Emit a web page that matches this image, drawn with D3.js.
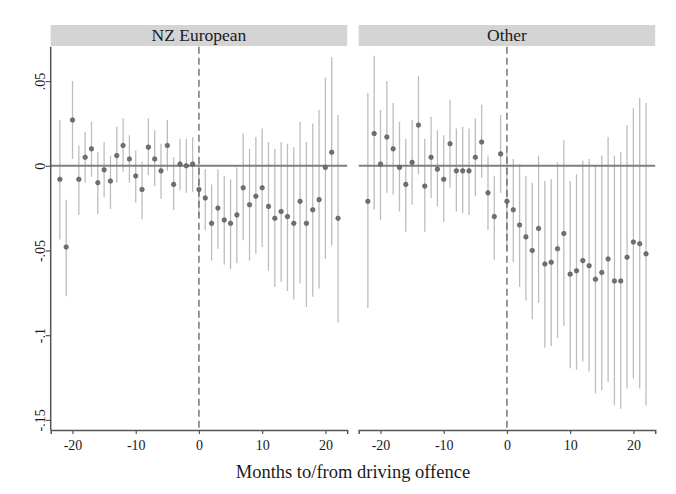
<!DOCTYPE html>
<html>
<head>
<meta charset="utf-8">
<script src="https://cdn.jsdelivr.net/npm/d3@7"></script>
<style>
  body { margin: 0; background: #fff; }
  svg text { font-family: 'Liberation Serif', 'DejaVu Serif', serif; fill: #1a1a1a; }
</style>
</head>
<body>
<script>
// months relative to the offence
const months = [-22, -21, -20, -19, -18, -17, -16, -15, -14, -13, -12, -11, -10, -9, -8, -7, -6, -5, -4, -3, -2, -1,
  0, 1, 2, 3, 4, 5, 6, 7, 8, 9, 10, 11, 12, 13, 14, 15, 16, 17, 18, 19, 20, 21, 22]

const panels = ['NZ European', 'Other']

// NZ European estimates and 95% CI
const nzEst = [-0.008, -0.048, 0.027, -0.008, 0.005, 0.010, -0.010, -0.0024, -0.009, 0.006, 0.012, 0.004, -0.006, -0.014, 0.011, 0.004, -0.003, 0.012, -0.011, 0.001, 0.000, 0.001,
  -0.014, -0.019, -0.034, -0.025, -0.032, -0.034, -0.029, -0.013, -0.023, -0.018, -0.013, -0.024, -0.031, -0.027, -0.030, -0.034, -0.021, -0.034, -0.026, -0.020, -0.001, 0.008, -0.031]
const nzLo = [-0.0435, -0.077, 0.004, -0.029, -0.010, -0.0065, -0.0285, -0.0185, -0.0256, -0.010, -0.0035, -0.010, -0.0217, -0.0315, -0.0055, -0.012, -0.0195, -0.003, -0.026, -0.0144, -0.016, -0.0154,
  -0.030, -0.038, -0.056, -0.049, -0.0585, -0.061, -0.0575, -0.044, -0.056, -0.052, -0.048, -0.062, -0.0715, -0.0685, -0.074, -0.079, -0.0695, -0.0835, -0.0774, -0.0724, -0.055, -0.047, -0.0925]
const nzHi = [0.027, -0.020, 0.050, 0.012, 0.020, 0.026, 0.008, 0.014, 0.006, 0.023, 0.028, 0.018, 0.009, 0.0024, 0.028, 0.021, 0.013, 0.027, 0.005, 0.016, 0.016, 0.017,
  0.002, -0.002, -0.011, -0.002, -0.006, -0.008, -0.001, 0.019, 0.010, 0.017, 0.022, 0.014, 0.010, 0.014, 0.013, 0.011, 0.026, 0.014, 0.025, 0.033, 0.052, 0.064, 0.030]

// Other estimates and 95% CI
const otEst = [-0.021, 0.019, 0.001, 0.017, 0.010, -0.001, -0.011, 0.002, 0.024, -0.012, 0.005, -0.002, -0.008, 0.013, -0.003, -0.003, -0.003, 0.005, 0.014, -0.016, -0.030, 0.007,
  -0.021, -0.026, -0.035, -0.042, -0.050, -0.037, -0.058, -0.057, -0.049, -0.040, -0.064, -0.062, -0.056, -0.059, -0.067, -0.063, -0.055, -0.068, -0.068, -0.054, -0.045, -0.046, -0.052]
const otLo = [-0.084, -0.026, -0.032, -0.016, -0.017, -0.027, -0.039, -0.023, -0.005, -0.039, -0.019, -0.024, -0.033, -0.013, -0.027, -0.028, -0.029, -0.018, -0.007, -0.038, -0.0555, -0.016,
  -0.050, -0.057, -0.0715, -0.0795, -0.0906, -0.081, -0.1075, -0.1065, -0.1016, -0.0945, -0.1195, -0.1205, -0.1156, -0.1215, -0.1344, -0.1325, -0.1276, -0.1415, -0.1435, -0.1315, -0.1256, -0.1315, -0.1415]
const otHi = [0.043, 0.065, 0.033, 0.050, 0.037, 0.026, 0.016, 0.027, 0.053, 0.016, 0.029, 0.021, 0.018, 0.039, 0.022, 0.023, 0.022, 0.028, 0.036, 0.006, -0.006, 0.030,
  0.008, 0.004, 0.001, -0.006, -0.010, 0.006, -0.009, -0.008, 0.002, 0.015, -0.009, -0.005, 0.003, 0.004, 0.000, 0.006, 0.017, 0.006, 0.008, 0.024, 0.034, 0.040, 0.037]

const yTicks = [0.05, 0, -0.05, -0.1, -0.15]
const yTickLabels = ['.05', '0', '-.05', '-.1', '-.15']
const xTicks = [-20, -10, 0, 10, 20]
const xTickLabels = ['-20', '-10', '0', '10', '20']

const WIDTH = 676
const HEIGHT = 494
const panelLeft = [50.7, 358.7]
const panelW = 296.5
const stripTop = 25
const stripH = 21
const plotTop = 46.7
const plotBottom = 430

const series = [
  months.map((m, i) => ({ m, est: nzEst[i], lo: nzLo[i], hi: nzHi[i] })),
  months.map((m, i) => ({ m, est: otEst[i], lo: otLo[i], hi: otHi[i] })),
]

const svg = d3.select('body')
  .append('svg')
  .attr('width', WIDTH)
  .attr('height', HEIGHT)

const y = d3.scaleLinear()
  .domain([-0.156, 0.0703])
  .range([plotBottom, plotTop])

panels.forEach((name, p) => {
  const x = d3.scaleLinear()
    .domain([-23.45, 23.45])
    .range([panelLeft[p], panelLeft[p] + panelW])

  const g = svg.append('g')

  // strip header
  g.append('rect')
    .attr('x', panelLeft[p])
    .attr('y', stripTop)
    .attr('width', panelW)
    .attr('height', stripH)
    .attr('fill', '#d4d4d4')
  g.append('text')
    .attr('x', panelLeft[p] + panelW / 2)
    .attr('y', stripTop + stripH / 2 + 5.5)
    .attr('text-anchor', 'middle')
    .style('font-size', '17.5px')
    .text(name)

  // confidence intervals
  g.selectAll('line.ci')
    .data(series[p])
    .enter()
    .append('line')
    .attr('class', 'ci')
    .attr('x1', d => x(d.m))
    .attr('x2', d => x(d.m))
    .attr('y1', d => y(d.lo))
    .attr('y2', d => y(d.hi))
    .attr('stroke', '#bdbdbd')
    .attr('stroke-width', 1.3)

  // zero line
  g.append('line')
    .attr('x1', panelLeft[p])
    .attr('x2', panelLeft[p] + panelW)
    .attr('y1', y(0))
    .attr('y2', y(0))
    .attr('stroke', '#7f7f7f')
    .attr('stroke-width', 2)

  // offence marker
  g.append('line')
    .attr('x1', x(0))
    .attr('x2', x(0))
    .attr('y1', plotTop)
    .attr('y2', plotBottom)
    .attr('stroke', '#555')
    .attr('stroke-width', 1.2)
    .attr('stroke-dasharray', '7,4')

  g.selectAll('circle')
    .data(series[p])
    .enter()
    .append('circle')
    .attr('cx', d => x(d.m))
    .attr('cy', d => y(d.est))
    .attr('r', 2.3)
    .attr('fill', '#707070')
    .attr('stroke', '#4a4a4a')
    .attr('stroke-width', 0.5)

  // x axis
  const xAxis = g.append('g')
    .attr('transform', `translate(0,${plotBottom})`)
    .call(d3.axisBottom(x).tickValues(xTicks).tickSize(4).tickPadding(6)
      .tickFormat((d, i) => xTickLabels[i]))
  xAxis.select('.domain').attr('stroke', '#555').attr('stroke-width', 1.5)
  xAxis.selectAll('.tick line').attr('stroke', '#555').attr('stroke-width', 1.2)
  xAxis.selectAll('.tick text')
    .style('font-size', '14px')
    .style('font-family', "'Liberation Serif', serif")
    .attr('fill', '#1a1a1a')

  // y axis only on the first panel
  if (p === 0) {
    const yAxis = g.append('g')
      .attr('transform', `translate(${panelLeft[p]},0)`)
      .call(d3.axisLeft(y).tickValues(yTicks).tickSize(5).tickFormat((d, i) => yTickLabels[i]))
    yAxis.select('.domain').attr('stroke', '#555').attr('stroke-width', 1.5)
      .attr('d', `M0,${plotTop}V${plotBottom}`)
    yAxis.selectAll('.tick line').attr('stroke', '#555').attr('stroke-width', 1.2)
    yAxis.selectAll('.tick text')
      .attr('x', null)
      .attr('dy', null)
      .attr('text-anchor', 'middle')
      .attr('transform', 'translate(-6,0) rotate(-90)')
      .style('font-size', '14px')
      .style('font-family', "'Liberation Serif', serif")
      .attr('fill', '#1a1a1a')
  }
})

svg.append('text')
  .attr('x', (panelLeft[0] + panelLeft[1] + panelW) / 2)
  .attr('y', 478)
  .attr('text-anchor', 'middle')
  .style('font-size', '18.5px')
  .text('Months to/from driving offence')
</script>
</body>
</html>
